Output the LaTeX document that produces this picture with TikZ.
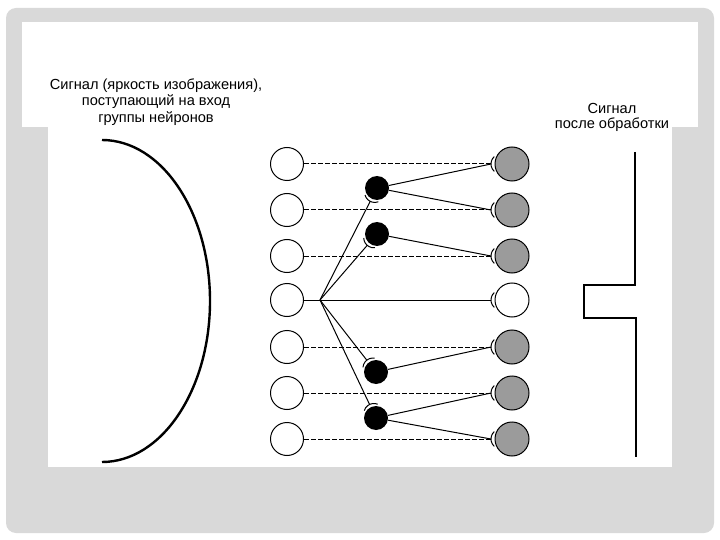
\documentclass[tikz,border=0pt]{standalone}
\usepackage{fontspec}
\setmainfont{Liberation Sans}
\usetikzlibrary{calc}
\definecolor{framegray}{RGB}{217,217,217}
\definecolor{stip}{RGB}{155,155,155}
% synapse mark: #1 source, #2 target node, #3 distance of the mark from the target centre
\newcommand\synmark[3]{%
  \draw[conn] let \p1=($(#2)-(#1)$), \n1={atan2(\y1,\x1)} in
    ($(#2)!#3!(#1)$) ++(\n1:10pt) ++(\n1+132:10pt)
    arc[start angle=\n1+132,end angle=\n1+228,radius=10pt];}
\begin{document}
\begin{tikzpicture}[x=1pt,y=-1pt,
  incell/.style={circle,draw,line width=1pt,fill=white,minimum size=33pt,inner sep=0pt},
  outcell/.style={circle,draw,line width=1pt,fill=stip,minimum size=34pt,inner sep=0pt},
  blackcell/.style={circle,fill=black,minimum size=24pt,inner sep=0pt},
  conn/.style={line width=1pt},
  dashline/.style={line width=1pt,dash pattern=on 4.5pt off 2.5pt},
  signal/.style={line width=2.4pt},
  lbl/.style={font=\fontsize{14.6}{16.5}\selectfont,inner sep=0pt,align=center}]
\useasboundingbox (0,0) rectangle (720,540);
\fill[white] (0,0) rectangle (720,540);
\fill[framegray,rounded corners=10pt] (6,8) rectangle (714,533);
\fill[white] (22,22) rectangle (698,127);
\fill[white] (48,72) rectangle (672,467);
% texts
\node[lbl] (tin) at (156,102) {Сигнал (яркость изображения),\\поступающий на вход\\группы нейронов};
\node[lbl] (tout1) at (612,108) {Сигнал};
\node[lbl] (tout2) at (612,125) {после обработки};
% input signal
\draw[signal] (102,140) arc[start angle=90,end angle=-90,x radius=108pt,y radius=161pt];
% output signal
\draw[signal] (635,152) -- (635,285) -- (584,285) -- (584,318) -- (636,318) -- (636,457);
% cells
\foreach \i/\y in {1/164,2/210,3/256,4/300,5/347,6/393,7/439}{
  \node[incell] (L\i) at (287,\y) {};
}
\foreach \i/\y in {1/164,2/210,3/256,5/347,6/393,7/439}{
  \node[outcell] (R\i) at (512,\y) {};
}
\node[incell,minimum size=34pt] (R4) at (512,300) {};
\node[blackcell] (B1) at (377,188) {};
\node[blackcell] (B2) at (377,234) {};
\node[blackcell] (B3) at (376,372) {};
\node[blackcell] (B4) at (376,418) {};
\coordinate (F) at (320,300);
% synapse points in front of the output cells
\foreach \i in {1,...,7}{
  \coordinate (S\i) at ($(R\i.center)+(-21pt,0pt)$);
}
% connectors
\foreach \i in {1,2,3,5,6,7}{
  \draw[dashline] (L\i) -- (S\i);
  \synmark{L\i}{R\i}{21pt}
}
\draw[conn] (L4) -- (S4);
\synmark{L4}{R4}{21pt}
\foreach \b in {B1,B2,B3,B4}{
  \draw[conn] (F) -- ($(\b)!15pt!(F)$);
  \synmark{F}{\b}{15pt}
}
\draw[conn] (B1) -- (S1);
\draw[conn] (B1) -- (S2);
\draw[conn] (B2) -- (S3);
\draw[conn] (B3) -- (S5);
\draw[conn] (B4) -- (S6);
\draw[conn] (B4) -- (S7);
\end{tikzpicture}
\end{document}
